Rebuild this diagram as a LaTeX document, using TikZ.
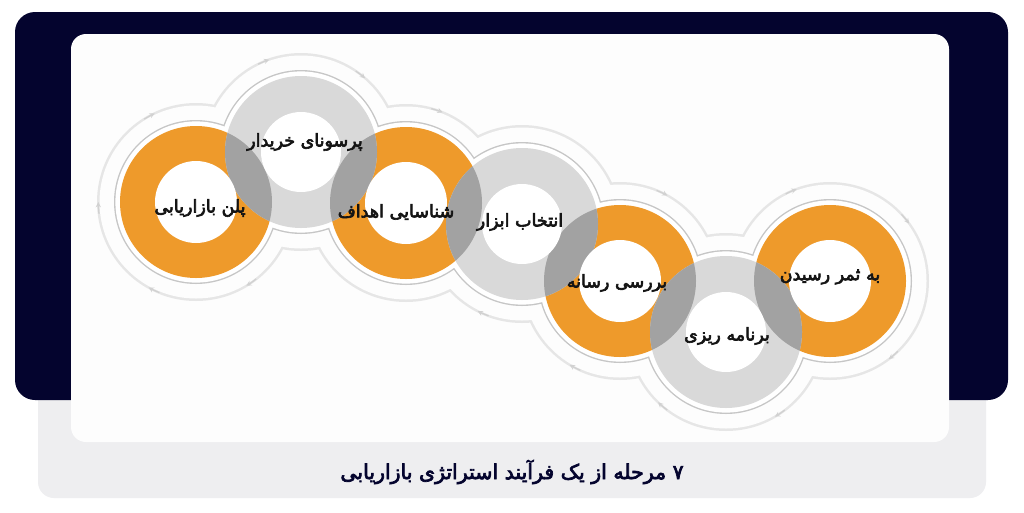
\documentclass[tikz,border=0pt]{standalone}
\usepackage{fontspec}
\usepackage{tikz}
\usetikzlibrary{arrows.meta}
\tikzset{>=stealth}
\TeXXeTstate=1
\newfontfamily\farsifont[Script=Arabic,FakeBold=3.5]{DejaVu Sans}

\definecolor{navy}{HTML}{04042E}
\definecolor{panelgray}{HTML}{EEEEF0}
\definecolor{cardwhite}{HTML}{FDFDFD}
\definecolor{ringorange}{HTML}{EE9A2B}
\definecolor{ringgray}{HTML}{D9D9D9}
\definecolor{lensgray}{HTML}{A2A2A2}
\definecolor{linegray}{HTML}{C6C6C6}
\definecolor{faintgray}{HTML}{E6E6E6}

\tikzset{
  steptext/.style={font=\farsifont\fontsize{17.5}{19}\selectfont, text=black!92, inner sep=0pt},
  titletext/.style={font=\farsifont\fontsize{20.5}{23}\selectfont, text=navy, inner sep=0pt},
  ringarrow/.style={draw=faintgray!80!gray, line width=1.3pt, ->},
}

\begin{document}
\begin{tikzpicture}[x=1pt,y=-1pt]
\useasboundingbox (0,0) rectangle (1024,512);
\fill[white] (0,0) rectangle (1024,512);
\fill[panelgray,rounded corners=16pt] (38,380) rectangle (986,498);
\fill[navy,rounded corners=20pt] (15,12) rectangle (1008,400);
\fill[cardwhite,rounded corners=15pt] (71,34) rectangle (949,442);
% step centres
\coordinate (plan) at (196,202);
\coordinate (persona) at (301,152);
\coordinate (goals) at (406,203);
\coordinate (tools) at (522,224);
\coordinate (media) at (620,281);
\coordinate (schedule) at (726,332);
\coordinate (result) at (830,281);
% outer track and outline
\fill[faintgray] (plan) circle [radius=99] (persona) circle [radius=99] (goals) circle [radius=99] (tools) circle [radius=99] (media) circle [radius=99] (schedule) circle [radius=99] (result) circle [radius=99];
\fill[cardwhite] (plan) circle [radius=96.5] (persona) circle [radius=96.5] (goals) circle [radius=96.5] (tools) circle [radius=96.5] (media) circle [radius=96.5] (schedule) circle [radius=96.5] (result) circle [radius=96.5];
\fill[linegray] (plan) circle [radius=82] (persona) circle [radius=82] (goals) circle [radius=82] (tools) circle [radius=82] (media) circle [radius=82] (schedule) circle [radius=82] (result) circle [radius=82];
\fill[white] (plan) circle [radius=80.6] (persona) circle [radius=80.6] (goals) circle [radius=80.6] (tools) circle [radius=80.6] (media) circle [radius=80.6] (schedule) circle [radius=80.6] (result) circle [radius=80.6];
% rings
\fill[ringorange] (plan) circle [radius=76] (goals) circle [radius=76] (media) circle [radius=76] (result) circle [radius=76];
\fill[ringgray] (persona) circle [radius=76] (tools) circle [radius=76] (schedule) circle [radius=76];
% overlaps
\begin{scope} \clip (plan) circle [radius=76]; \fill[lensgray] (persona) circle [radius=76]; \end{scope}
\begin{scope} \clip (persona) circle [radius=76]; \fill[lensgray] (goals) circle [radius=76]; \end{scope}
\begin{scope} \clip (goals) circle [radius=76]; \fill[lensgray] (tools) circle [radius=76]; \end{scope}
\begin{scope} \clip (tools) circle [radius=76]; \fill[lensgray] (media) circle [radius=76]; \end{scope}
\begin{scope} \clip (media) circle [radius=76]; \fill[lensgray] (schedule) circle [radius=76]; \end{scope}
\begin{scope} \clip (schedule) circle [radius=76]; \fill[lensgray] (result) circle [radius=76]; \end{scope}
% holes
\fill[white] (plan) circle [radius=41] (persona) circle [radius=40] (goals) circle [radius=41] (tools) circle [radius=40] (media) circle [radius=41] (schedule) circle [radius=40] (result) circle [radius=41];
% small arrows on the track
\draw[ringarrow] (plan) ++(238:97.7) arc [start angle=238, end angle=245, radius=97.7];
\draw[ringarrow] (plan) ++(173:97.7) arc [start angle=173, end angle=180, radius=97.7];
\draw[ringarrow] (plan) ++(112:97.7) arc [start angle=112, end angle=119, radius=97.7];
\draw[ringarrow] (plan) ++(52:97.7) arc [start angle=52, end angle=59, radius=97.7];
\draw[ringarrow] (persona) ++(244:97.7) arc [start angle=244, end angle=251, radius=97.7];
\draw[ringarrow] (persona) ++(304:97.7) arc [start angle=304, end angle=311, radius=97.7];
\draw[ringarrow] (goals) ++(285:97.7) arc [start angle=285, end angle=292, radius=97.7];
\draw[ringarrow] (tools) ++(110:97.7) arc [start angle=110, end angle=117, radius=97.7];
\draw[ringarrow] (media) ++(292:97.7) arc [start angle=292, end angle=299, radius=97.7];
\draw[ringarrow] (media) ++(114:97.7) arc [start angle=114, end angle=121, radius=97.7];
\draw[ringarrow] (schedule) ++(127:97.7) arc [start angle=127, end angle=134, radius=97.7];
\draw[ringarrow] (schedule) ++(53:97.7) arc [start angle=53, end angle=60, radius=97.7];
\draw[ringarrow] (result) ++(243:97.7) arc [start angle=243, end angle=250, radius=97.7];
\draw[ringarrow] (result) ++(317:97.7) arc [start angle=317, end angle=324, radius=97.7];
\draw[ringarrow] (result) ++(46:97.7) arc [start angle=46, end angle=53, radius=97.7];
% labels
\node[steptext] (plantext) at (200,208) {\beginR پلن بازاریابی\endR};
\node[steptext] (personatext) at (305,142) {\beginR پرسونای خریدار\endR};
\node[steptext] (goalstext) at (396,212) {\beginR شناسایی اهداف\endR};
\node[steptext] (toolstext) at (520,222) {\beginR انتخاب ابزار\endR};
\node[steptext] (mediatext) at (617,283) {\beginR بررسی رسانه\endR};
\node[steptext] (scheduletext) at (727,336) {\beginR برنامه ریزی\endR};
\node[steptext] (resulttext) at (830,277) {\beginR به ثمر رسیدن\endR};
\node[titletext] (title) at (512,472) {\beginR ۷ مرحله از یک فرآیند استراتژی بازاریابی\endR};
\end{tikzpicture}
\end{document}
